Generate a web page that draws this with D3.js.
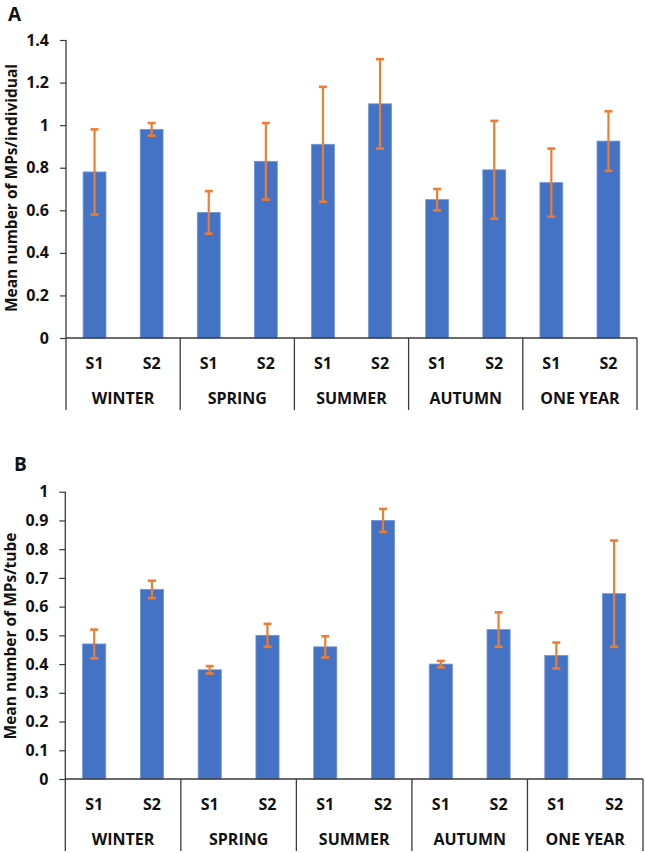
<!DOCTYPE html>
<html><head><meta charset="utf-8">
<script src="https://cdn.jsdelivr.net/npm/d3@7"></script>
<style>
html,body{margin:0;padding:0;background:#fff;}
svg text{font-family:"Open Sans",sans-serif;font-weight:700;fill:#111;}
</style></head>
<body><svg id="c" width="645" height="853"></svg>
<script>
const seasons = ["WINTER","SPRING","SUMMER","AUTUMN","ONE YEAR"];
const sites = ["S1","S2"];
// Panel A: mean MPs per individual
const meanA = [0.78,0.98, 0.59,0.83, 0.91,1.10, 0.65,0.79, 0.73,0.925];
const errA  = [0.20,0.03, 0.10,0.18, 0.27,0.21, 0.05,0.23, 0.16,0.14];
const ticksA = [0,0.2,0.4,0.6,0.8,1,1.2,1.4];
// Panel B: mean MPs per tube
const meanB = [0.47,0.66, 0.38,0.50, 0.46,0.90, 0.40,0.52, 0.43,0.645];
const errB  = [0.05,0.03, 0.013,0.04, 0.037,0.04, 0.011,0.06, 0.045,0.185];
const ticksB = [0,0.1,0.2,0.3,0.4,0.5,0.6,0.7,0.8,0.9,1];

const svg = d3.select("#c");
const AX = "#3a3a3a";

function panel(cfg){
  const g = svg.append("g");
  const slots = [];
  seasons.forEach(s => sites.forEach(t => slots.push(s+"|"+t)));
  const x = d3.scaleBand().domain(slots).range([cfg.x0,cfg.x1]).paddingInner(0.6).paddingOuter(0.3);
  const xg = d3.scaleBand().domain(seasons).range([cfg.x0,cfg.x1]);
  const y = d3.scaleLinear().domain([0,cfg.ymax]).range([cfg.yb,cfg.yt]);

  // bars
  g.selectAll("rect.bar").data(cfg.mean).join("rect")
    .attr("x",(d,i)=>x(slots[i])).attr("width",x.bandwidth())
    .attr("y",d=>y(d)).attr("height",d=>y(0)-y(d))
    .attr("fill","#4472C4").attr("stroke","#6d93d8").attr("stroke-width",0.8);

  // error bars
  const eg = g.selectAll("g.err").data(cfg.mean).join("g").attr("stroke","#ED7D31").attr("stroke-width",2.2);
  eg.append("line").attr("x1",(d,i)=>x(slots[i])+x.bandwidth()/2).attr("x2",(d,i)=>x(slots[i])+x.bandwidth()/2)
    .attr("y1",(d,i)=>y(d+cfg.err[i])).attr("y2",(d,i)=>y(d-cfg.err[i]));
  [1,-1].forEach(sg=>{
    eg.append("line").attr("x1",(d,i)=>x(slots[i])+x.bandwidth()/2-4).attr("x2",(d,i)=>x(slots[i])+x.bandwidth()/2+4)
      .attr("y1",(d,i)=>y(d+sg*cfg.err[i])).attr("y2",(d,i)=>y(d+sg*cfg.err[i])).attr("stroke-width",2.6);
  });

  // y axis
  const ya = g.append("g").attr("transform",`translate(${cfg.x0},0)`)
    .call(d3.axisLeft(y).tickValues(cfg.ticks).tickSize(6).tickPadding(11).tickFormat(d=>String(+d.toFixed(1))));
  ya.select(".domain").remove();
  ya.selectAll(".tick line").attr("stroke",AX).attr("stroke-width",1.2);
  ya.selectAll(".tick text").style("font-size","16px").attr("fill","#111");
  g.append("line").attr("x1",cfg.x0).attr("x2",cfg.x0).attr("y1",cfg.yt).attr("y2",cfg.ysep).attr("stroke",AX).attr("stroke-width",1.3);

  // x baseline
  g.append("line").attr("x1",cfg.x0).attr("x2",cfg.x1).attr("y1",y(0)).attr("y2",y(0)).attr("stroke",AX).attr("stroke-width",1.3);
  // separators
  const seps = seasons.map(s=>xg(s)+xg.bandwidth());
  g.selectAll("line.sep").data(seps).join("line").attr("class","sep")
    .attr("x1",d=>d).attr("x2",d=>d).attr("y1",y(0)).attr("y2",cfg.ysep).attr("stroke",AX).attr("stroke-width",1.3);

  // site labels
  g.selectAll("text.site").data(slots).join("text").attr("class","site")
    .attr("x",d=>x(d)+x.bandwidth()/2).attr("y",cfg.ySite).attr("text-anchor","middle").attr("dominant-baseline","central")
    .style("font-size","16px").text(d=>d.split("|")[1]);
  g.selectAll("text.season").data(seasons).join("text").attr("class","season")
    .attr("x",d=>xg(d)+xg.bandwidth()/2).attr("y",cfg.ySeason).attr("text-anchor","middle").attr("dominant-baseline","central")
    .style("font-size","16px").text(d=>d);

  // axis title
  g.append("text").attr("transform",`translate(${cfg.titleX},${cfg.titleY}) rotate(-90)`)
    .attr("text-anchor","middle").attr("dominant-baseline","central").style("font-size","15.5px").text(cfg.title);
  // panel letter
  g.append("text").attr("x",cfg.lx).attr("y",cfg.ly).style("font-size","19px").text(cfg.letter);
}

panel({x0:66,x1:637,yt:40,yb:338,ymax:1.4,ysep:410,ySite:363,ySeason:398,
  mean:meanA,err:errA,ticks:ticksA,title:"Mean number of MPs/individual",titleX:11,titleY:188,letter:"A",lx:8,ly:21});
panel({x0:65.3,x1:643,yt:491.7,yb:779,ymax:1,ysep:851,ySite:804,ySeason:839,
  mean:meanB,err:errB,ticks:ticksB,title:"Mean number of MPs/tube",titleX:10,titleY:636,letter:"B",lx:14,ly:471});
</script></body></html>
